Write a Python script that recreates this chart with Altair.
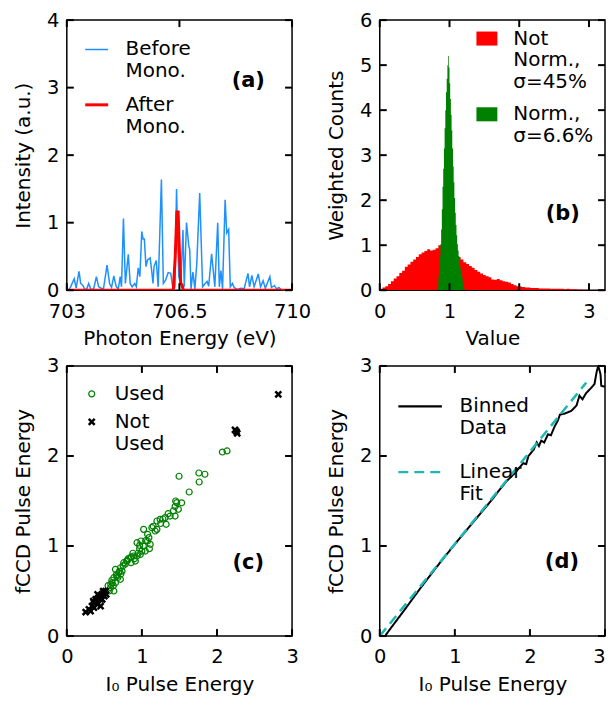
import altair as alt
import pandas as pd

FONT = "DejaVu Sans"
W, H = 226, 271
TL = 7

# ---------------- Panel (a) ----------------
blue_e = [703.06, 703.12, 703.23, 703.29, 703.38, 703.43, 703.50, 703.56, 703.62, 703.68,
          703.74, 703.83, 703.92, 703.99, 704.07, 704.14, 704.25, 704.33, 704.39, 704.46,
          704.54, 704.60, 704.66, 704.70, 704.76, 704.82, 704.91, 704.97, 705.03, 705.11,
          705.16, 705.22, 705.27, 705.33, 705.37, 705.41, 705.46, 705.51, 705.59, 705.64,
          705.68, 705.71, 705.78, 705.84, 705.94, 706.00, 706.07, 706.15, 706.23, 706.30,
          706.36, 706.41, 706.48, 706.54, 706.61, 706.65, 706.72, 706.79, 706.82, 706.86,
          706.92, 706.98, 707.04, 707.13, 707.22, 707.30, 707.36, 707.41, 707.50, 707.55,
          707.60, 707.69, 707.74, 707.79, 707.84, 707.92, 707.97, 708.03, 708.08, 708.15,
          708.20, 708.30, 708.40, 708.51, 708.63, 708.68, 708.75, 708.82, 708.95, 709.02,
          709.10, 709.17, 709.31, 709.36, 709.45, 709.52, 709.59, 709.69, 709.85]
blue_v = [0.00, 0.05, 0.17, 0.03, 0.28, 0.10, 0.07, 0.01, 0.02, 0.10,
          0.02, 0.01, 0.20, 0.05, 0.03, 0.02, 0.37, 0.10, 0.04, 0.21,
          0.05, 0.02, 0.20, 0.05, 1.06, 0.10, 0.53, 0.10, 0.05, 0.10,
          0.05, 0.33, 0.20, 0.87, 0.76, 0.76, 0.35, 0.45, 0.48, 0.28,
          0.10, 0.35, 0.44, 0.05, 1.64, 0.10, 0.15, 0.26, 0.25, 0.02,
          0.05, 1.50, 0.20, 0.08, 0.89, 0.05, 1.00, 0.66, 0.60, 0.02,
          0.27, 0.02, 0.40, 1.44, 0.05, 0.10, 0.13, 0.06, 0.54, 0.30,
          0.05, 1.00, 0.05, 0.29, 0.02, 1.34, 0.85, 0.90, 0.05, 0.10,
          0.04, 0.01, 0.03, 0.02, 0.25, 0.05, 0.22, 0.05, 0.24, 0.05,
          0.14, 0.03, 0.20, 0.04, 0.07, 0.02, 0.04, 0.00, 0.00]
red_e = [703.0, 706.31, 706.37, 706.42, 706.46, 706.50, 706.54, 706.58, 706.62, 710.0]
red_v = [0.0, 0.0, 0.5, 1.16, 1.16, 0.55, 0.10, 0.08, 0.0, 0.0]
a_xticks = [703, 706.5, 710]
a_yticks = [0, 1, 2, 3, 4]
a_series = ["Before|Mono.", "After|Mono."]

# ---------------- Panel (b) ----------------
red_edges = [0.00, 0.04, 0.08, 0.12, 0.16, 0.20, 0.24, 0.28, 0.32, 0.36,
             0.40, 0.44, 0.48, 0.52, 0.56, 0.60, 0.64, 0.68, 0.72, 0.76,
             0.80, 0.84, 0.88, 0.92, 0.96, 1.00, 1.04, 1.08, 1.12, 1.16,
             1.20, 1.24, 1.28, 1.32, 1.36, 1.40, 1.44, 1.48, 1.52, 1.56,
             1.60, 1.64, 1.68, 1.72, 1.76, 1.80, 1.84, 1.88, 1.92, 1.96,
             2.00, 2.04, 2.08, 2.12, 2.16, 2.20, 2.24, 2.28, 2.32, 2.36,
             2.40, 2.44, 2.48, 2.52, 2.56, 2.60, 2.64, 2.68, 2.72, 2.76,
             2.80, 2.84, 2.88, 2.92, 2.96, 3.00, 3.04, 3.08, 3.12, 3.16, 3.20]
red_counts = [0.03, 0.06, 0.09, 0.14, 0.20, 0.26, 0.31, 0.38, 0.43, 0.52,
              0.57, 0.63, 0.68, 0.74, 0.80, 0.84, 0.87, 0.91, 0.88, 0.90,
              0.93, 1.00, 0.92, 0.90, 0.88, 0.85, 0.82, 0.78, 0.74, 0.68,
              0.62, 0.58, 0.54, 0.50, 0.45, 0.41, 0.37, 0.34, 0.31, 0.29,
              0.24, 0.23, 0.25, 0.22, 0.20, 0.19, 0.17, 0.14, 0.11, 0.09,
              0.08, 0.07, 0.06, 0.06, 0.05, 0.05, 0.05, 0.04, 0.04, 0.04,
              0.04, 0.03, 0.03, 0.03, 0.03, 0.03, 0.02, 0.03, 0.02, 0.02,
              0.02, 0.01, 0.01, 0.01, 0.01, 0.005, 0.005, 0.005, 0.005, 0.003, 0.0]
green_edges = [0.82, 0.83, 0.84, 0.85, 0.86, 0.87, 0.88, 0.89, 0.90, 0.91,
               0.92, 0.93, 0.94, 0.95, 0.96, 0.97, 0.98, 0.99, 1.00, 1.01,
               1.02, 1.03, 1.04, 1.05, 1.06, 1.07, 1.08, 1.09, 1.10, 1.11,
               1.12, 1.13, 1.14, 1.15, 1.16, 1.17, 1.18, 1.19, 1.20, 1.21, 1.22]
green_counts = [0.02, 0.08, 0.30, 0.50, 0.75, 1.02, 1.35, 1.80, 2.30, 2.70,
                3.15, 3.60, 4.00, 4.40, 4.70, 5.00, 5.20, 4.95, 4.60, 4.25,
                3.90, 3.55, 3.15, 2.75, 2.40, 2.05, 1.72, 1.45, 1.22, 1.02,
                0.88, 0.76, 0.62, 0.52, 0.43, 0.35, 0.28, 0.15, 0.06, 0.02, 0.0]
b_xticks = [0, 1, 2, 3]
b_yticks = [0, 1, 2, 3, 4, 5, 6]
b_series = ["Not|Norm.,|σ=45%", "Norm.,|σ=6.6%"]

# ---------------- Panel (c) ----------------
used_x = [1.495, 1.63, 1.464, 1.53, 1.442, 1.486, 1.42, 1.442, 1.376, 1.31,
          1.323, 1.243, 1.20, 1.133, 1.20, 1.177, 1.076, 1.023, 1.093, 1.076,
          0.988, 0.935, 0.97, 1.111, 1.10, 1.045, 1.00, 0.979, 0.935, 0.89,
          0.847, 0.803, 0.856, 0.913, 0.758, 0.714, 0.736, 0.692, 0.648, 0.67,
          0.714, 0.626, 0.604, 0.648, 0.586, 0.583, 0.626, 0.566, 2.072, 2.134,
          1.759, 1.839, 1.763, 0.55, 0.60, 0.66, 0.70, 0.75, 0.78, 0.82,
          0.86, 0.90, 0.95, 0.97, 1.02, 1.05, 0.68, 0.62, 0.72, 0.80,
          0.88, 1.15, 1.28, 1.35, 1.45, 1.25]
used_y = [1.775, 1.60, 1.482, 1.48, 1.438, 1.408, 1.39, 1.333, 1.333, 1.315,
          1.241, 1.297, 1.278, 1.204, 1.185, 1.167, 1.13, 1.185, 1.093, 1.056,
          1.056, 1.037, 1.007, 1.019, 0.97, 0.944, 0.944, 0.907, 0.889, 0.889,
          0.87, 0.833, 0.815, 0.833, 0.815, 0.759, 0.722, 0.704, 0.741, 0.667,
          0.63, 0.648, 0.593, 0.593, 0.574, 0.537, 0.50, 0.50, 2.044, 2.056,
          1.811, 1.797, 1.711, 0.56, 0.62, 0.68, 0.72, 0.78, 0.80, 0.86,
          0.88, 0.86, 0.92, 0.97, 1.00, 1.06, 0.65, 0.56, 0.69, 0.84,
          0.92, 1.22, 1.30, 1.36, 1.50, 1.25]
notused_x = [0.251, 0.295, 0.335, 0.361, 0.397, 0.41, 0.45, 0.384, 0.441, 0.472,
             0.494, 0.516, 0.485, 0.41, 0.45, 0.353, 0.428, 0.525, 0.317, 0.361,
             0.472, 0.50, 2.24, 2.27, 2.26, 2.817]
notused_y = [0.267, 0.296, 0.333, 0.37, 0.389, 0.352, 0.407, 0.407, 0.444, 0.463,
             0.481, 0.50, 0.50, 0.463, 0.333, 0.389, 0.426, 0.463, 0.278, 0.315,
             0.407, 0.444, 2.29, 2.25, 2.27, 2.685]
c_ticks = [0, 1, 2, 3]
c_series = ["Used", "Not|Used"]

# ---------------- Panel (d) ----------------
binned_x = [0.07, 0.14, 0.32, 0.54, 0.76, 0.98, 1.20, 1.42, 1.50, 1.60,
            1.70, 1.80, 1.85, 1.91, 1.95, 1.98, 2.05, 2.09, 2.12, 2.15,
            2.19, 2.24, 2.28, 2.33, 2.37, 2.40, 2.46, 2.55, 2.62, 2.66,
            2.70, 2.75, 2.82, 2.86, 2.89, 2.91, 2.94, 2.95, 3.00]
binned_y = [0.00, 0.08, 0.28, 0.53, 0.77, 1.00, 1.22, 1.44, 1.52, 1.63,
            1.73, 1.81, 1.86, 1.92, 1.91, 2.00, 2.07, 2.15, 2.11, 2.17,
            2.15, 2.24, 2.23, 2.33, 2.39, 2.46, 2.47, 2.50, 2.56, 2.67,
            2.63, 2.70, 2.76, 2.80, 2.94, 3.00, 2.91, 2.78, 2.77]
fit_x = [0.0, 2.75]
fit_y = [0.0, 2.815]
d_ticks = [0, 1, 2, 3]
d_series = ["Binned|Data", "Linear|Fit"]

LABEL_EXPR = "split(datum.label, '|')"


def tick_layers(xticks, yticks, ex, ey):
    xt = pd.DataFrame({"x": xticks})
    yt = pd.DataFrame({"y": yticks})
    bx = alt.Chart(xt).mark_rule(color="black", strokeWidth=2)
    by = alt.Chart(yt).mark_rule(color="black", strokeWidth=2)
    return [
        bx.encode(x=ex, y=alt.value(H), y2=alt.value(H - TL)),
        bx.encode(x=ex, y=alt.value(0), y2=alt.value(TL)),
        by.encode(y=ey, x=alt.value(0), x2=alt.value(TL)),
        by.encode(y=ey, x=alt.value(W), x2=alt.value(W - TL)),
    ]


def panel_label(txt, x, y, ex, ey):
    df = pd.DataFrame({"x": [x], "y": [y], "t": [txt]})
    return alt.Chart(df).mark_text(font=FONT, fontSize=21, fontWeight="bold",
                                   color="black", align="center", baseline="middle").encode(
        x=ex, y=ey, text="t:N")


def enc(domain, values, title, ch, **axkw):
    sc = alt.Scale(domain=domain, nice=False, zero=False)
    ax = alt.Axis(values=values, title=title, **axkw)
    if ch == "x":
        return alt.X("x:Q", scale=sc, axis=ax)
    return alt.Y("y:Q", scale=sc, axis=ax)


# ---- (a)
ex_a = enc([703, 710], a_xticks, "Photon Energy (eV)", "x", format=".4~g")
ey_a = enc([0, 4], a_yticks, "Intensity (a.u.)", "y")
leg_a = alt.Legend(orient="none", legendX=17, legendY=17, title=None, padding=0,
                   rowPadding=10, labelOffset=16, symbolSize=529, symbolType="stroke",
                   labelExpr=LABEL_EXPR)
col_a = alt.Color("s:N", scale=alt.Scale(domain=a_series, range=["#1e90ff", "#ff0000"]), legend=leg_a)
sw_a = alt.StrokeWidth("s:N", scale=alt.Scale(domain=a_series, range=[1.5, 3]), legend=leg_a)
df_blue = pd.DataFrame({"x": blue_e, "y": blue_v, "s": a_series[0]})
df_red = pd.DataFrame({"x": red_e, "y": red_v, "s": a_series[1]})
blue = alt.Chart(df_blue).mark_line(clip=True).encode(x=ex_a, y=ey_a, color=col_a, strokeWidth=sw_a)
red = alt.Chart(df_red).mark_line(clip=True).encode(x=ex_a, y=ey_a, color=col_a, strokeWidth=sw_a)
pA = alt.layer(blue, red, *tick_layers(a_xticks, a_yticks, ex_a, ey_a),
               panel_label("(a)", 708.64, 3.1, ex_a, ey_a)).properties(width=W, height=H)

# ---- (b)
ex_b = enc([0, 3.23], b_xticks, "Value", "x")
ey_b = enc([0, 6], b_yticks, "Weighted Counts", "y")
leg_b = alt.Legend(orient="none", legendX=97, legendY=8, title=None, padding=0,
                   rowPadding=11, labelOffset=16, symbolType="M-1,-0.67H1V0.67H-1Z",
                   symbolSize=441, symbolStrokeWidth=0, labelExpr=LABEL_EXPR)
col_b = alt.Color("s:N", scale=alt.Scale(domain=b_series, range=["#ff0000", "#008000"]), legend=leg_b)
df_rh = pd.DataFrame({"x": red_edges, "y": red_counts, "s": b_series[0]})
df_gh = pd.DataFrame({"x": green_edges, "y": green_counts, "s": b_series[1]})
rh = alt.Chart(df_rh).mark_area(interpolate="step-after", opacity=1, clip=True).encode(
    x=ex_b, y=ey_b, color=col_b)
gh = alt.Chart(df_gh).mark_area(interpolate="step-after", opacity=1, clip=True).encode(
    x=ex_b, y=ey_b, color=col_b)
pB = alt.layer(rh, gh, *tick_layers(b_xticks, b_yticks, ex_b, ey_b),
               panel_label("(b)", 2.625, 1.70, ex_b, ey_b)).properties(width=W, height=H)

# ---- (c)
ex_c = enc([0, 3], c_ticks, "I₀ Pulse Energy", "x")
ey_c = enc([0, 3], c_ticks, "fCCD Pulse Energy", "y")
XPATH = "M-1,-1L1,1M-1,1L1,-1"
leg_c = alt.Legend(orient="none", legendX=15, legendY=18, title=None, padding=0,
                   rowPadding=8, labelOffset=13, symbolSize=36, labelExpr=LABEL_EXPR)
col_c = alt.Color("s:N", scale=alt.Scale(domain=c_series, range=["#008000", "#000000"]), legend=leg_c)
shp_c = alt.Shape("s:N", scale=alt.Scale(domain=c_series, range=["circle", XPATH]), legend=leg_c)
sw_c = alt.StrokeWidth("s:N", scale=alt.Scale(domain=c_series, range=[1.2, 2.5]), legend=leg_c)
df_used = pd.DataFrame({"x": used_x, "y": used_y, "s": c_series[0]})
df_not = pd.DataFrame({"x": notused_x, "y": notused_y, "s": c_series[1]})
used = alt.Chart(df_used).mark_point(filled=False, size=36, opacity=1).encode(
    x=ex_c, y=ey_c, color=col_c, shape=shp_c, strokeWidth=sw_c)
notused = alt.Chart(df_not).mark_point(filled=False, size=36, opacity=1).encode(
    x=ex_c, y=ey_c, color=col_c, shape=shp_c, strokeWidth=sw_c)
pC = alt.layer(used, notused, *tick_layers(c_ticks, c_ticks, ex_c, ey_c),
               panel_label("(c)", 2.417, 0.815, ex_c, ey_c)).properties(width=W, height=H)

# ---- (d)
ex_d = enc([0, 3], d_ticks, "I₀ Pulse Energy", "x",
           labelAlign={"condition": {"test": "datum.value >= 3", "value": "right"}, "value": "center"})
ey_d = enc([0, 3], d_ticks, "fCCD Pulse Energy", "y")
leg_d = alt.Legend(orient="none", legendX=17, legendY=17, title=None, padding=0,
                   rowPadding=10, labelOffset=16, symbolSize=1910, symbolType="stroke",
                   symbolStrokeWidth=2.3, labelExpr=LABEL_EXPR)
col_d = alt.Color("s:N", scale=alt.Scale(domain=d_series, range=["#000000", "#1cb8b8"]), legend=leg_d)
dash_d = alt.StrokeDash("s:N", scale=alt.Scale(domain=d_series, range=[[1, 0], [10, 6]]), legend=leg_d)
df_bin = pd.DataFrame({"x": binned_x, "y": binned_y, "s": d_series[0]})
df_fit = pd.DataFrame({"x": fit_x, "y": fit_y, "s": d_series[1]})
binned = alt.Chart(df_bin).mark_line(strokeWidth=2, clip=True).encode(
    x=ex_d, y=ey_d, color=col_d, strokeDash=dash_d)
fit = alt.Chart(df_fit).mark_line(strokeWidth=2.5, clip=True).encode(
    x=ex_d, y=ey_d, color=col_d, strokeDash=dash_d)
pD = alt.layer(binned, fit, *tick_layers(d_ticks, d_ticks, ex_d, ey_d),
               panel_label("(d)", 2.426, 0.82, ex_d, ey_d)).properties(width=W, height=H)

chart = alt.concat(pA, pB, pC, pD, columns=2, spacing={"row": 76, "column": 88},
                   bounds="flush").resolve_scale(
    color="independent", shape="independent", strokeWidth="independent",
    strokeDash="independent"
).properties(
    padding={"left": 4, "top": 0, "right": 0, "bottom": 0}
).configure_view(
    stroke="black", strokeWidth=1.5
).configure_axis(
    labelFont=FONT, titleFont=FONT, labelFontSize=19.5, titleFontSize=20,
    titleFontWeight="normal", labelColor="black", titleColor="black",
    ticks=False, domain=False, grid=False, labelFlush=False, labelOverlap=False
).configure_axisX(
    labelPadding=12, titlePadding=8
).configure_axisY(
    labelPadding=8, titlePadding=13
).configure_legend(
    labelFont=FONT, labelFontSize=20, labelColor="black", labelLimit=0
)

chart.save("out.html", embed_options={"renderer": "svg", "actions": False})
